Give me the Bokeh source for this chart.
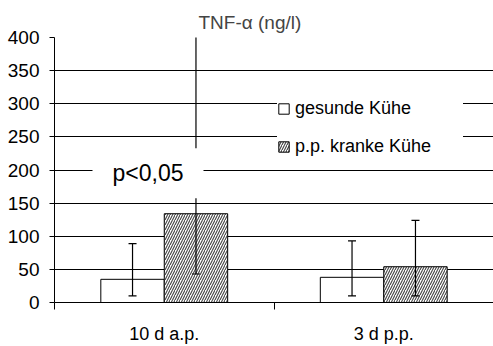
from bokeh.plotting import figure
from bokeh.models import (ColumnDataSource, FactorRange, Range1d, LinearAxis, CategoricalAxis,
                          FixedTicker, Legend, LegendItem, Label)
from bokeh.transform import dodge
from bokeh.embed import file_html
from bokeh.resources import INLINE

# TNF-alpha concentrations (ng/l), mean with error range
categories = ["10 d a.p.", "3 d p.p."]
healthy = [35, 38]
healthy_lo = [10, 10]
healthy_hi = [89, 93]
sick = [134, 54]
sick_lo = [43, 10]
sick_hi = [410, 124]
y_ticks = [0, 50, 100, 150, 200, 250, 300, 350, 400]

FONT = "Liberation Sans"
BAR_W = 0.289
OFF = BAR_W / 2

src = ColumnDataSource(dict(cat=categories, healthy=healthy, healthy_lo=healthy_lo,
                            healthy_hi=healthy_hi, sick=sick, sick_lo=sick_lo, sick_hi=sick_hi))

p = figure(width=493, height=346, output_backend="svg", toolbar_location=None,
           x_range=FactorRange(*categories, range_padding=0), y_range=Range1d(0, 400),
           x_axis_location=None, min_border_left=54, min_border_right=0,
           min_border_top=10, min_border_bottom=10)
p.outline_line_color = None
p.background_fill_color = "white"
p.border_fill_color = "white"

# title
p.title.text = "TNF-α (ng/l)"
p.title.text_font = FONT
p.title.text_font_size = "19px"
p.title.text_font_style = "normal"
p.title.align = "left"
p.title.offset = 144
p.title.standoff = 10
p.title.padding = dict(left=0, right=0, top=4, bottom=0)

# y axis and grid
p.yaxis.ticker = FixedTicker(ticks=y_ticks)
p.yaxis.major_label_text_font = FONT
p.yaxis.major_label_text_font_size = "19px"
p.yaxis.major_label_text_color = "black"
p.yaxis.major_tick_out = 5
p.yaxis.major_tick_in = 0
p.yaxis.minor_tick_line_color = None
p.yaxis.major_label_standoff = 10
p.yaxis.axis_line_color = "black"
p.yaxis.major_tick_line_color = "black"
p.xgrid.grid_line_color = None
p.ygrid.grid_line_color = "black"
p.ygrid.grid_line_width = 1

# x axis: tick marks on the category boundaries, then the category labels
bounds_axis = LinearAxis(ticker=FixedTicker(ticks=[], minor_ticks=list(range(len(categories) + 1))),
                         major_tick_line_color=None, minor_tick_out=7, minor_tick_in=0,
                         minor_tick_line_color="black", axis_line_color="black")
p.add_layout(bounds_axis, "below")
cat_axis = CategoricalAxis(major_tick_out=0, major_tick_in=0, axis_line_color=None,
                           major_tick_line_color=None, major_label_standoff=14,
                           major_label_text_font=FONT, major_label_text_font_size="18px",
                           major_label_text_color="black")
p.add_layout(cat_axis, "below")

# bars
r_h = p.vbar(x=dodge("cat", -OFF, range=p.x_range), top="healthy", width=BAR_W, source=src,
             fill_color="white", line_color="black", line_width=1)
r_s = p.vbar(x=dodge("cat", OFF, range=p.x_range), top="sick", width=BAR_W, source=src,
             fill_color="white", line_color="black", line_width=1,
             hatch_pattern="/", hatch_color="#444444", hatch_scale=5, hatch_weight=1.1)

# error bars
for col, off in (("healthy", -OFF), ("sick", OFF)):
    xd = dodge("cat", off, range=p.x_range)
    p.segment(x0=xd, x1=xd, y0=col + "_lo", y1=col + "_hi", source=src,
              line_color="black", line_width=1.2)
    p.scatter(x=xd, y=col + "_lo", marker="dash", size=8, source=src,
              line_color="black", line_width=1.2)
    p.scatter(x=xd, y=col + "_hi", marker="dash", size=8, source=src,
              line_color="black", line_width=1.2)

# significance note
p.add_layout(Label(x=93.5, x_units="screen", y=195, text="p<0,05",
                   text_font=FONT, text_font_size="23px", text_color="black",
                   text_align="center", text_baseline="middle",
                   background_fill_color="white", background_fill_alpha=1.0,
                   padding=dict(left=20, right=20, top=12, bottom=12)))

legend = Legend(items=[LegendItem(label="gesunde Kühe", renderers=[r_h]),
                       LegendItem(label="p.p. kranke Kühe", renderers=[r_s])],
                location=(223, 145), orientation="vertical",
                label_text_font=FONT, label_text_font_size="18px", label_text_color="black",
                glyph_width=13, glyph_height=13, label_standoff=5, label_height=20,
                label_width=168, spacing=17, padding=15, margin=0,
                border_line_color=None, background_fill_color="white",
                background_fill_alpha=1.0)
p.add_layout(legend, "center")

open("out.html", "w").write(file_html(p, INLINE))
